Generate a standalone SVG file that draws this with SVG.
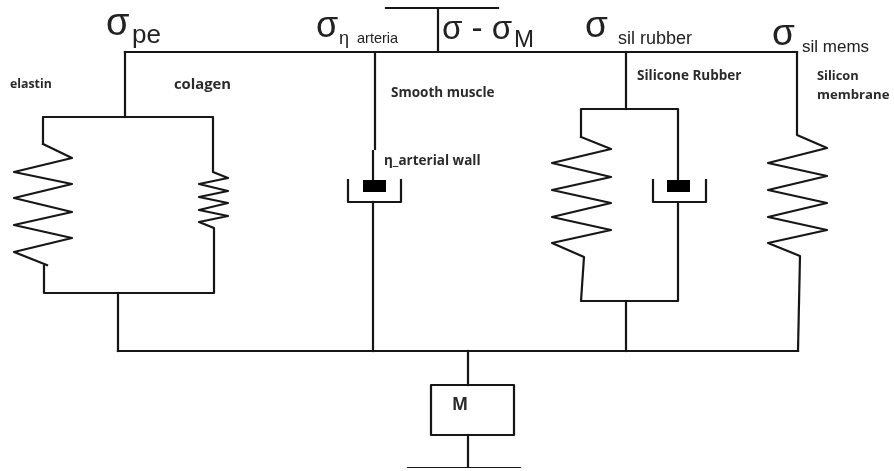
<svg xmlns="http://www.w3.org/2000/svg" width="894" height="471" viewBox="0 0 894 471">
<defs><filter id="soft" x="0" y="0" width="100%" height="100%"><feGaussianBlur stdDeviation="0.45"/></filter></defs>
<style>
.l{fill:none;stroke:#161616;stroke-width:2.2;stroke-linejoin:round;stroke-linecap:square}
.pst{fill:#000}
.s{font-family:"Liberation Sans",Arial,sans-serif;fill:#222}
.b{font-family:"Open Sans","Liberation Sans",sans-serif;font-weight:700;font-size:13.5px;fill:#2b2b2b}
</style>
<rect width="894" height="471" fill="#fff"/>
<g filter="url(#soft)">
<g id="connectors">
<path class="l" d="M125 52H797"/>
<path class="l" d="M386 8H498M438 8V52"/>
<path class="l" d="M125 52V117"/>
<path class="l" d="M118 293V351"/>
<path class="l" d="M118 351H798"/>
<path class="l" d="M375 52V149M373 151V180"/>
<path class="l" d="M373 202V351"/>
<path class="l" d="M626 52V109"/>
<path class="l" d="M626 301V351"/>
<path class="l" d="M468 351V385"/>
<path class="l" d="M468 435V468"/>
<path class="l" d="M408 468H520"/>
</g>
<g id="collagen-spring">
<path class="l" d="M43 144V117H213V172L228 178L199 184L228 191L199 197L228 203L199 210L228 216L199 222L214 228V293H44V266"/>
</g>
<g id="elastin-spring">
<path class="l" d="M43 144L72 158L14 172L72 184L14 198L72 212L14 225L72 238L14 252L47 265"/>
</g>
<g id="smooth-muscle-dashpot">
<path class="l" d="M348 180V202H401V180"/>
<rect class="pst" x="363" y="180" width="23" height="12"/>
</g>
<g id="silicone-rubber">
<path class="l" d="M581 137V109H678V180"/>
<path class="l" d="M581 137L611 149L552 163L611 177L552 190L611 203L552 217L611 230L552 243L584 257L581 301H678V202"/>
<path class="l" d="M653 180V202H706V180"/>
<rect class="pst" x="667" y="180" width="23" height="12"/>
</g>
<g id="silicon-membrane">
<path class="l" d="M797 52V135L827 148L768 163L827 176L768 190L827 203L768 217L827 230L768 243L800 256L798 351"/>
</g>
<g id="mass">
<rect class="l" x="431" y="385" width="83" height="50"/>
<text class="b" x="452" y="410" style="font-size:17px">M</text>
</g>
<g id="labels">
<text class="s" x="106" y="35" font-size="38">σ</text>
<text class="s" x="132" y="43" font-size="26">pe</text>
<text class="s" x="316" y="37" font-size="36">σ</text>
<text class="s" x="339" y="44" font-size="18">η</text>
<text class="s" x="357" y="43" font-size="14.5">arteria</text>
<text class="s" x="442" y="39" font-size="33">σ - σ</text>
<text class="s" x="514" y="47" font-size="24">M</text>
<text class="s" x="585" y="37" font-size="37">σ</text>
<text class="s" x="618" y="44" font-size="18">sil rubber</text>
<text class="s" x="772" y="45" font-size="37">σ</text>
<text class="s" x="802" y="52" font-size="17">sil mems</text>
<text class="b" x="10" y="88" style="font-size:12.3px">elastin</text>
<text class="b" x="174" y="89" style="font-size:14.8px">colagen</text>
<text class="b" x="391" y="97">Smooth muscle</text>
<text class="b" x="384" y="165">η_arterial wall</text>
<text class="b" x="637" y="80">Silicone Rubber</text>
<text class="b" x="817" y="80" style="font-size:12.8px">Silicon</text>
<text class="b" x="817" y="99" style="font-size:13.2px">membrane</text>
</g>
</g>
</svg>
